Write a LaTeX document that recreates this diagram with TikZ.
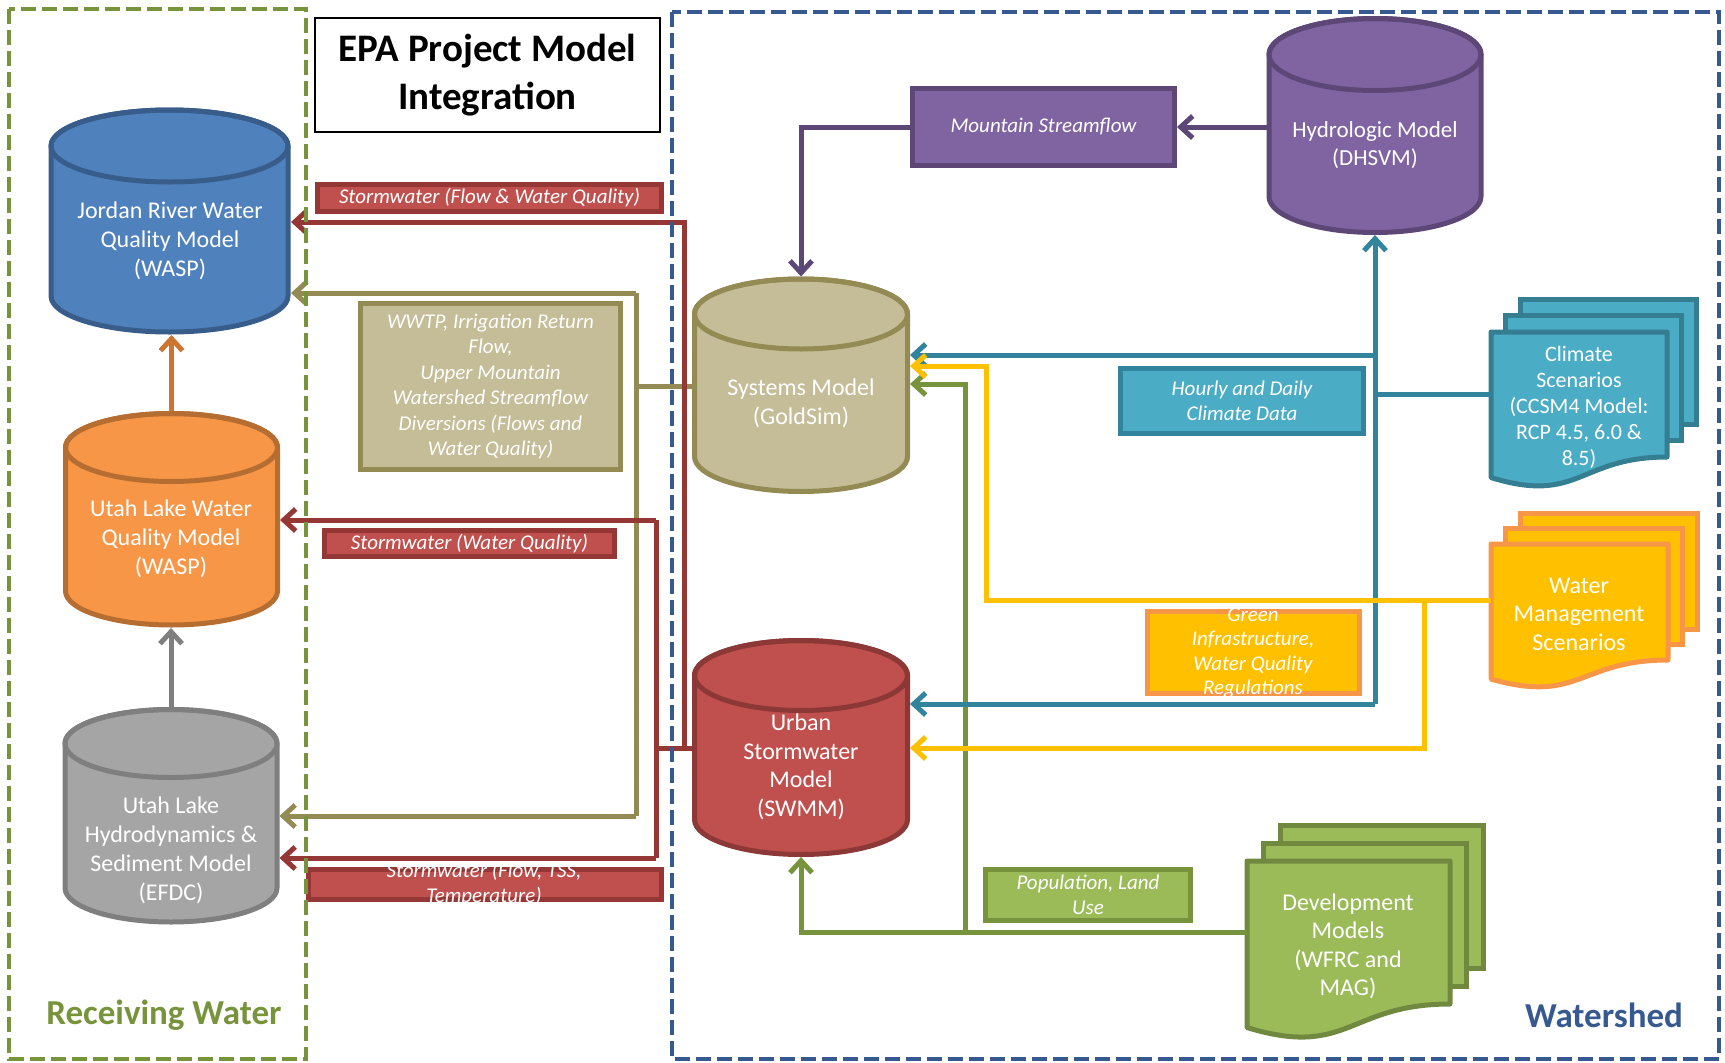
\documentclass[tikz,border=0pt]{standalone}
\usepackage{fontspec}
\setmainfont{Carlito}
\usetikzlibrary{arrows.meta}

\definecolor{bluF}{HTML}{4F81BD}\definecolor{bluD}{HTML}{385D8A}
\definecolor{orgF}{HTML}{F79646}\definecolor{orgD}{HTML}{B66D31}\definecolor{orgA}{HTML}{CC7430}
\definecolor{gryF}{HTML}{A5A5A5}\definecolor{gryD}{HTML}{7F7F7F}
\definecolor{tanF}{HTML}{C4BD97}\definecolor{tanD}{HTML}{948A54}
\definecolor{purF}{HTML}{8064A2}\definecolor{purD}{HTML}{5C4776}
\definecolor{redF}{HTML}{C0504D}\definecolor{redD}{HTML}{953735}\definecolor{redC}{HTML}{8C3836}
\definecolor{tealF}{HTML}{4BACC6}\definecolor{tealD}{HTML}{357D91}\definecolor{tealL}{HTML}{31849B}
\definecolor{grnF}{HTML}{9BBB59}\definecolor{grnD}{HTML}{71893F}\definecolor{grnL}{HTML}{77933C}
\definecolor{ylwF}{HTML}{FFC000}
\definecolor{wsBlue}{HTML}{36598F}

% cx, top, bot, rx, ry, fill, draw
\newcommand\cylshape[7]{%
  \filldraw[fill=#6,draw=#7,line width=5pt,line join=round]
    ({#1-#4},{#2+#5}) -- ({#1-#4},{#3-#5})
    arc[start angle=180,end angle=0,x radius=#4,y radius=#5]
    -- ({#1+#4},{#2+#5})
    arc[start angle=0,end angle=-180,x radius=#4,y radius=#5] -- cycle;
  \draw[#7,line width=5pt] (#1,{#2+#5}) ellipse[x radius=#4,y radius=#5];
}
% L T W H dx dy fill draw
\newcommand\docstack[8]{%
  \filldraw[fill=#7,draw=#8,line width=5pt] ({#1+2*#5},{#2-2*#6}) rectangle ++(#3,#4);
  \filldraw[fill=#7,draw=#8,line width=5pt] ({#1+#5},{#2-#6}) rectangle ++(#3,#4);
  \filldraw[fill=#7,draw=#8,line width=5pt,line join=round] (#1,#2) -- ({#1+#3},#2) -- ({#1+#3},{#2+#4})
    .. controls ({#1+#3/2},{#2+#4}) and ({#1+#3/2},{#2+1.381*#4}) .. (#1,{#2+1.1646*#4}) -- cycle;
}

\begin{document}
\begin{tikzpicture}[x=1pt,y=-1pt,
  hold/.style={inner sep=0pt,outer sep=0pt,draw=none,fill=none,rectangle},
  cyltxt/.style={text=white,align=center,inner sep=0pt,font=\fontsize{24}{29}\selectfont},
  doctxt/.style={text=white,align=center,inner sep=0pt,font=\fontsize{24}{28.5}\selectfont},
  lbl/.style={rectangle,line width=5pt,inner sep=0pt,text=white,align=center,font=\fontsize{21}{25.5}\selectfont\itshape},
  lbltxt/.style={text=white,align=center,inner sep=0pt,font=\fontsize{21}{24.5}\selectfont\itshape},
  conn/.style={line width=5pt},
  arr/.style={-{Straight Barb[length=12pt,width=22pt]}},
  rl/.style={conn,draw=redD},
  ol/.style={conn,draw=tanD},
  tl/.style={conn,draw=tealL},
  yl/.style={conn,draw=ylwF},
  gl/.style={conn,draw=grnL},
  pl/.style={conn,draw=purD},
]
\useasboundingbox (0,0) rectangle (1725,1063);

% ---------- cylinders ----------
\cylshape{169.5}{110}{332}{118.5}{36}{bluF}{bluD}
\cylshape{171.5}{413.5}{625}{106}{34}{orgF}{orgD}
\cylshape{171}{709.5}{922}{106}{34}{gryF}{gryD}
\cylshape{801}{279}{491.5}{106.5}{35}{tanF}{tanD}
\cylshape{1375}{18.5}{232.5}{106}{36}{purF}{purD}
\cylshape{801}{640.5}{854.5}{106.5}{35}{redF}{redC}

\node[hold,minimum width=243,minimum height=228] (jr) at (169.5,221) {};
\node[hold,minimum width=217,minimum height=217] (ul) at (171.5,519.5) {};
\node[hold,minimum width=217,minimum height=218] (ef) at (171,816) {};
\node[hold,minimum width=218,minimum height=217] (sy) at (801,385) {};
\node[hold,minimum width=217,minimum height=219] (hy) at (1375,125.5) {};
\node[hold,minimum width=218,minimum height=219] (sw) at (801,747.5) {};

\node[cyltxt] (jrT) at (170,241) {Jordan River Water\\Quality Model\\(WASP)};
\node[cyltxt] (ulT) at (171,539) {Utah Lake Water\\Quality Model\\(WASP)};
\node[cyltxt] (efT) at (171,850) {Utah Lake\\Hydrodynamics \&\\Sediment Model\\(EFDC)};
\node[cyltxt] (syT) at (801,403) {Systems Model\\(GoldSim)};
\node[cyltxt,font=\fontsize{23}{28}\selectfont] (hyT) at (1375,145) {Hydrologic Model\\(DHSVM)};
\node[cyltxt,font=\fontsize{24}{28.5}\selectfont] (swT) at (801,767) {Urban\\Stormwater\\Model\\(SWMM)};

% ---------- documents ----------
\docstack{1491}{332}{176}{125}{14.5}{16.5}{tealF}{tealD}
\docstack{1491}{544}{177}{116}{14.5}{15.5}{ylwF}{orgF}
\docstack{1247}{861}{203}{143}{16.5}{18}{grnF}{grnD}
\node[hold,anchor=north west,minimum width=176,minimum height=125] (cs) at (1491,332) {};
\node[hold,anchor=north west,minimum width=177,minimum height=116] (wm) at (1491,544) {};
\node[hold,anchor=north west,minimum width=203,minimum height=143] (dm) at (1247,861) {};
\node[doctxt,font=\fontsize{22}{26}\selectfont] (csT) at (1579,407) {Climate\\Scenarios\\(CCSM4 Model:\\RCP 4.5, 6.0 \&\\8.5)};
\node[doctxt] (wmT) at (1579,614) {Water\\Management\\Scenarios};
\node[doctxt] (dmT) at (1348,946.5) {Development\\Models\\(WFRC and\\MAG)};

% ---------- boxes ----------
\node[draw=black,fill=white,line width=2.5pt,minimum width=345,minimum height=114,inner sep=0pt,align=center,font=\fontsize{39}{48}\selectfont\bfseries] (title) at (487.5,75) {EPA Project Model\\Integration};
\node[lbl,fill=purF,draw=purD,minimum width=262,minimum height=77] (ms) at (1043.5,127) {Mountain Streamflow};
\node[lbl,fill=tealF,draw=tealL,minimum width=243,minimum height=65] (hd) at (1242,401) {Hourly and Daily\\Climate Data};
\node[lbl,fill=ylwF,draw=orgF,minimum width=212,minimum height=82] (gi) at (1253.5,652.5) {};
\node[lbltxt] (giT) at (1253,653) {Green\\Infrastructure,\\Water Quality\\Regulations};
\node[lbl,fill=grnF,draw=grnL,minimum width=205,minimum height=51] (pop) at (1088,895) {Population, Land\\Use};
\node[lbl,fill=tanF,draw=tanD,minimum width=260,minimum height=166] (ww) at (490.5,386.5) {WWTP, Irrigation Return\\Flow,\\Upper Mountain\\Watershed Streamflow\\Diversions (Flows and\\Water Quality)};
\node[lbl,fill=redF,draw=redD,minimum width=344,minimum height=27] (s1) at (489.5,198) {Stormwater (Flow \& Water Quality)};
\node[lbl,fill=redF,draw=redD,minimum width=290,minimum height=26] (s2) at (469.5,543.5) {Stormwater (Water Quality)};
\node[lbl,fill=redF,draw=redD,minimum width=353,minimum height=30] (s3) at (485,884.5) {};
\node[lbltxt] (s3T) at (484,884) {Stormwater (Flow, TSS,\\Temperature)};

% ---------- connectors ----------
\draw[conn,draw=orgA,arr] (ul.north) -- (ul.north |- jr.south);
\draw[conn,draw=gryD,arr] (ef.north) -- (ef.north |- ul.south);

\draw[pl,arr] (ms.east -| hy.west) -- (ms.east);
\draw[pl,arr] (ms.west) -| (sy.north);

% olive
\coordinate (oM) at (636,386);
\coordinate (oT) at (636,293);
\coordinate (oB) at (636,816);
\draw[ol] (sy.west |- oM) -- (oM);
\draw[ol] (oT) -- (oB);
\draw[ol,arr] (oT) -- (oT -| jr.east);
\draw[ol,arr] (oB) -- (oB -| ef.east);

% red
\coordinate (rA) at (684,748);
\coordinate (rB) at (656,748);
\coordinate (rT) at (684,222);
\coordinate (r1) at (656,520);
\coordinate (r2) at (656,858);
\draw[rl] (sw.west |- rA) -- (rB);
\draw[rl,arr] (rA) -- (rT) -- (rT -| jr.east);
\draw[rl] (r1) -- (r2);
\draw[rl,arr] (r1) -- (r1 -| ul.east);
\draw[rl,arr] (r2) -- (r2 -| ef.east);

% green
\coordinate (gA) at (965,932);
\coordinate (gT) at (965,384);
\draw[gl,arr] (dm.west |- gA) -| (sw.south);
\draw[gl,arr] (gA) -- (gT) -- (gT -| sy.east);

% teal
\coordinate (tB) at (1375,704);
\coordinate (tS) at (1375,355);
\draw[tl,arr] (tB) -- (hy.south);
\draw[tl] (cs.west) -- (cs.west -| tB);
\draw[tl,arr] (tS) -- (tS -| sy.east);
\draw[tl,arr] (tB) -- (tB -| sw.east);

% yellow
\coordinate (yA) at (986,600);
\coordinate (yT) at (986,366);
\coordinate (yB) at (1424,600);
\coordinate (yC) at (1424,748);
\draw[yl,arr] (wm.west |- yA) -- (yA) -- (yT) -- (yT -| sy.east);
\draw[yl,arr] (yB) -- (yC) -- (yC -| sw.east);

% ---------- region frames ----------
\draw[grnL,line width=4pt,dash pattern=on 15pt off 6pt] (9,9) rectangle (306,1059);
\draw[wsBlue,line width=4pt,dash pattern=on 15pt off 6pt] (672,12) rectangle (1719,1059);
\node[text=grnL,font=\fontsize{35}{40}\selectfont\bfseries,inner sep=0pt] (rw) at (164,1015) {Receiving Water};
\node[text=wsBlue,font=\fontsize{35}{40}\selectfont\bfseries,inner sep=0pt] (ws) at (1604,1015) {Watershed};
\end{tikzpicture}
\end{document}
